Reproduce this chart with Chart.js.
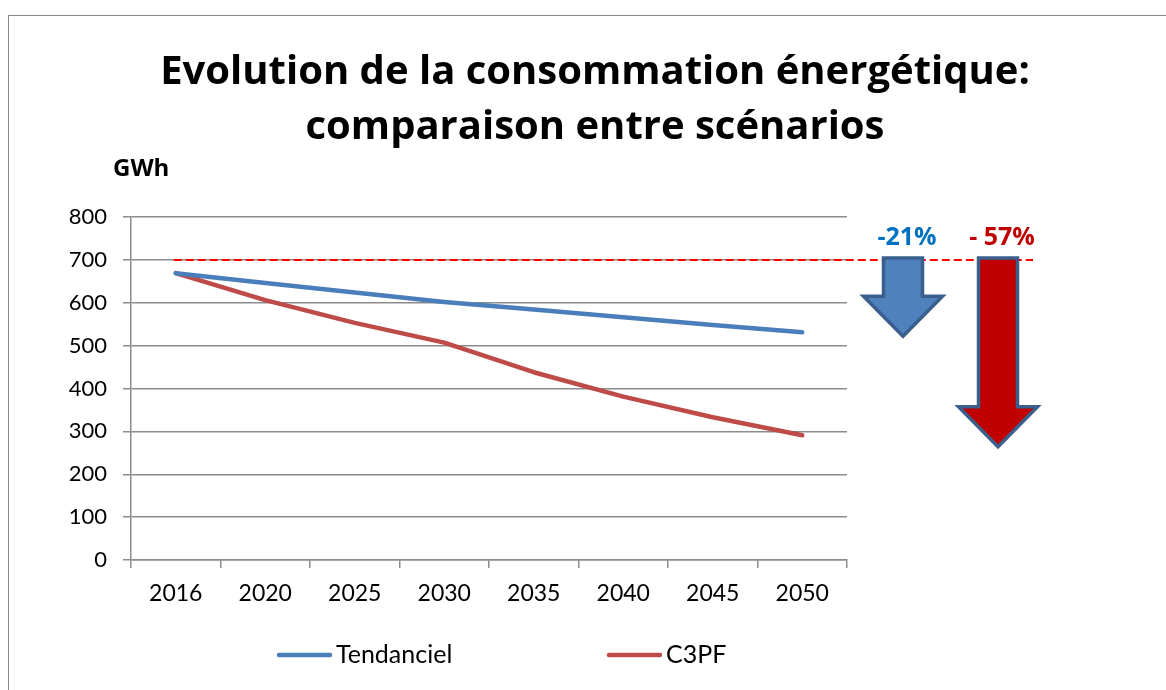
<!DOCTYPE html>
<html>
<head>
<meta charset="utf-8">
<script src="https://cdn.jsdelivr.net/npm/chart.js@4"></script>
<style>
  html, body { margin:0; padding:0; background:#fff; overflow:hidden; width:1166px; height:690px; }
  #frame { position:absolute; left:8px; top:15px; width:1300px; height:800px; border:1px solid #8a8a8a; box-sizing:border-box; }
  #wrap { position:absolute; left:0; top:0; width:1190px; height:690px; }
</style>
</head>
<body>
<div id="frame"></div>
<div id="wrap"><canvas id="c" width="1190" height="690"></canvas></div>
<script>
const titleLines = ["Evolution de la consommation énergétique:", "comparaison entre scénarios"];
const unitLabel = "GWh";
const years = ["2016", "2020", "2025", "2030", "2035", "2040", "2045", "2050"];
const tendanciel = [669, 646, 624, 602, 584, 566, 548, 531];
const c3pf = [669, 606, 553, 507, 438, 381, 333, 291];
const seriesNames = ["Tendanciel", "C3PF"];
const yTicks = [0, 100, 200, 300, 400, 500, 600, 700, 800];
const baselineValue = 700;
const arrowTips = [522, 264];
const arrowLabels = ["-21%", "- 57%"];

const BLUE = '#4A7EBB', RED = '#BE4B48', GRID = '#8c8c8c';

const annotationPlugin = {
  id: 'annot',
  afterDatasetsDraw(chart) {
    const ctx = chart.ctx, ca = chart.chartArea;
    const y = chart.scales.y;
    const yBase = y.getPixelForValue(baselineValue);
    // dashed reference line
    ctx.save();
    ctx.strokeStyle = '#ff0000';
    ctx.lineWidth = 2;
    ctx.setLineDash([8, 4]);
    ctx.beginPath();
    ctx.moveTo(chart.scales.x.getPixelForValue(0) - 2, yBase);
    ctx.lineTo(ca.right + 186, yBase);
    ctx.stroke();
    ctx.restore();

    const arrows = [
      { cx: ca.right + 56, tip: arrowTips[0], fill: '#4F81BD', labelColor: '#0070C0', label: arrowLabels[0] },
      { cx: ca.right + 151, tip: arrowTips[1], fill: '#C00000', labelColor: '#C00000', label: arrowLabels[1] }
    ];
    arrows.forEach(a => {
      const top = yBase - 2;
      const tipY = y.getPixelForValue(a.tip);
      const headLen = 40, shaftHalf = 19.5, headHalf = 39.5;
      const hs = tipY - headLen;
      ctx.save();
      ctx.beginPath();
      ctx.moveTo(a.cx - shaftHalf, top);
      ctx.lineTo(a.cx + shaftHalf, top);
      ctx.lineTo(a.cx + shaftHalf, hs);
      ctx.lineTo(a.cx + headHalf, hs);
      ctx.lineTo(a.cx, tipY);
      ctx.lineTo(a.cx - headHalf, hs);
      ctx.lineTo(a.cx - shaftHalf, hs);
      ctx.closePath();
      ctx.fillStyle = a.fill;
      ctx.fill();
      ctx.lineWidth = 3.5;
      ctx.lineJoin = 'miter';
      ctx.strokeStyle = '#3B5F8C';
      ctx.stroke();
      ctx.fillStyle = a.labelColor;
      ctx.font = 'bold 25px "Open Sans"';
      ctx.textAlign = 'center';
      ctx.textBaseline = 'middle';
      ctx.fillText(a.label, a.cx + 4, yBase - 22);
      ctx.restore();
    });

    // unit label
    ctx.save();
    ctx.fillStyle = '#000';
    ctx.font = 'bold 24px "Open Sans"';
    ctx.textAlign = 'left';
    ctx.textBaseline = 'middle';
    ctx.fillText(unitLabel, ca.left - 18, 169);
    ctx.restore();

    // legend
    const legendY = 655;
    const legendX = [ca.left + 146, ca.left + 476];
    chart.data.datasets.forEach((ds, i) => {
      const x0 = legendX[i];
      ctx.save();
      ctx.strokeStyle = ds.borderColor;
      ctx.lineWidth = 4.5;
      ctx.lineCap = 'round';
      ctx.beginPath();
      ctx.moveTo(x0 + 2, legendY);
      ctx.lineTo(x0 + 53, legendY);
      ctx.stroke();
      ctx.fillStyle = '#000';
      ctx.font = '25px Lato';
      ctx.textAlign = 'left';
      ctx.textBaseline = 'middle';
      ctx.fillText(ds.label, x0 + 59, legendY);
      ctx.restore();
    });
  }
};

new Chart(document.getElementById('c'), {
  type: 'line',
  data: {
    labels: years,
    datasets: [
      { label: seriesNames[0], data: tendanciel, borderColor: BLUE, backgroundColor: BLUE, borderWidth: 4.5, pointRadius: 0, tension: 0, borderCapStyle: 'round', borderJoinStyle: 'round', yAxisID: 'y' },
      { label: seriesNames[1], data: c3pf, borderColor: RED, backgroundColor: RED, borderWidth: 4.5, pointRadius: 0, tension: 0, borderCapStyle: 'round', borderJoinStyle: 'round', yAxisID: 'y' }
    ]
  },
  options: {
    responsive: false,
    animation: false,
    events: [],
    layout: { padding: 0 },
    plugins: {
      legend: { display: false },
      tooltip: { enabled: false },
      title: {
        display: true,
        text: titleLines,
        color: '#000',
        font: { family: '"Open Sans"', weight: 'bold', size: 40, lineHeight: 1.375 },
        padding: { top: 45, bottom: 62 }
      }
    },
    scales: {
      x: {
        offset: true,
        grid: { display: true, drawOnChartArea: false, drawTicks: true, tickLength: 8, color: GRID, lineWidth: 1.5, offset: true },
        border: { display: true, color: GRID, width: 1.5 },
        ticks: { color: '#000', font: { family: 'Lato', size: 23 }, padding: 12, maxRotation: 0, autoSkip: false },
        afterFit(s) { s.height = 130; }
      },
      y: {
        min: 0, max: 800,
        afterBuildTicks(s) { s.ticks = yTicks.map(v => ({ value: v })); },
        grid: { color: GRID, lineWidth: 1.5, tickLength: 8 },
        border: { display: true, color: GRID, width: 1.5 },
        ticks: { color: '#000', font: { family: 'Lato', size: 22 }, padding: 16 },
        afterFit(s) { s.width = 131; }
      },
      y2: {
        position: 'right',
        display: true,
        grid: { display: false, drawTicks: false },
        border: { display: false },
        ticks: { display: false },
        afterFit(s) { s.width = 343; }
      }
    }
  },
  plugins: [annotationPlugin]
});
</script>
</body>
</html>
